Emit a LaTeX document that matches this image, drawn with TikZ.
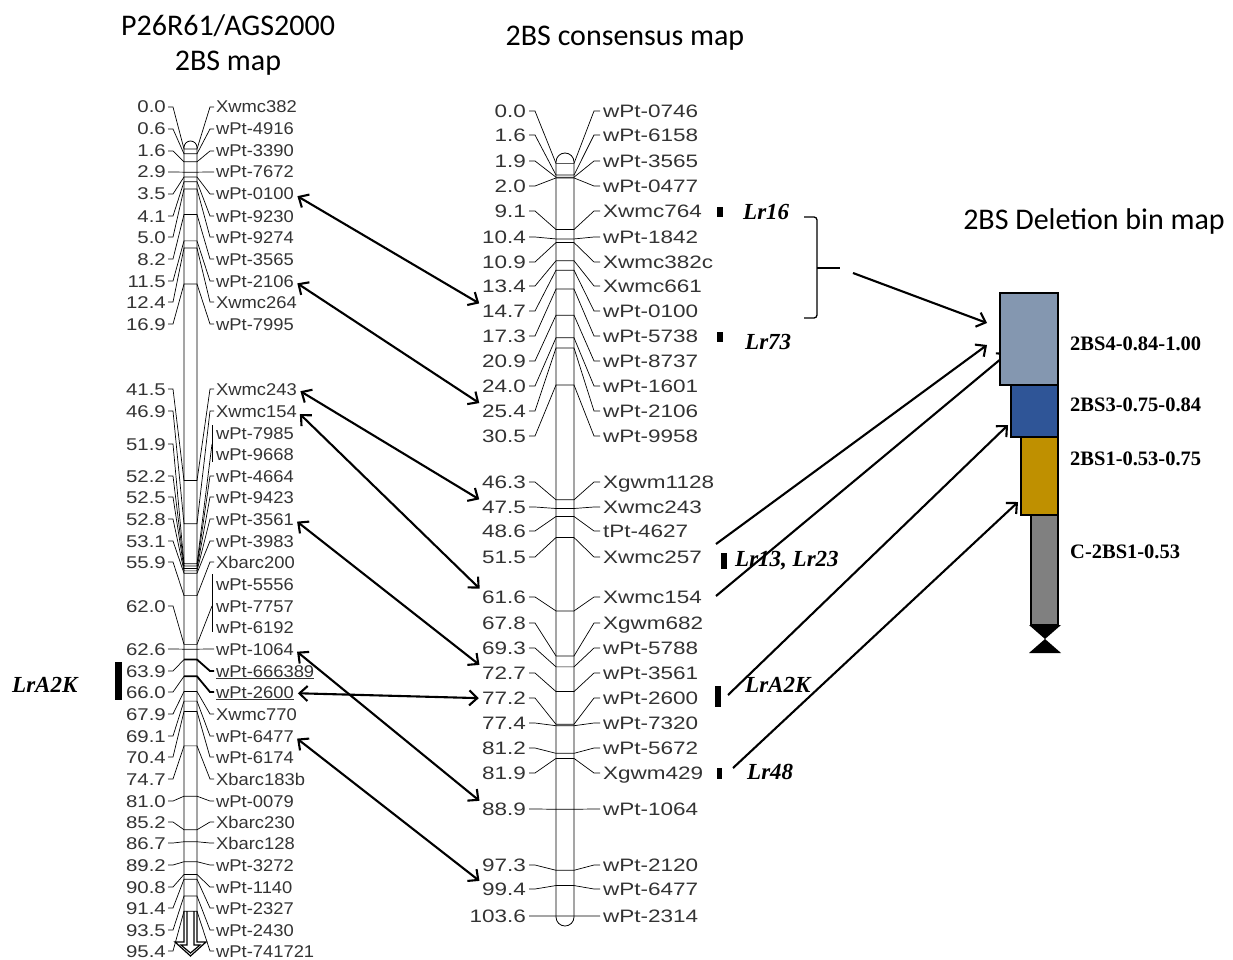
\documentclass[tikz,border=0pt]{standalone}
\usepackage{fontspec}
\setmainfont{Liberation Serif}
\newfontfamily\leftmapfont[FakeStretch=1.08]{Liberation Sans}
\newfontfamily\leftnumfont[FakeStretch=1.2]{Liberation Sans}
\newfontfamily\consmapfont[FakeStretch=1.25]{Liberation Sans}
\newfontfamily\titlefont{Carlito}
\usetikzlibrary{arrows.meta}

\definecolor{binfour}{HTML}{8497B0}
\definecolor{binthree}{HTML}{2F5597}
\definecolor{binone}{HTML}{BF9000}
\definecolor{bincen}{HTML}{808080}
\definecolor{mapgray}{HTML}{333333}

\tikzset{
  lead/.style={line width=0.7pt},
  lcm/.style={anchor=base east,inner sep=0pt,text=mapgray,font=\leftnumfont\fontsize{17}{17}\selectfont},
  lmk/.style={anchor=base west,inner sep=0pt,text=mapgray,font=\leftmapfont\fontsize{17}{17}\selectfont},
  mcm/.style={anchor=base east,inner sep=0pt,text=mapgray,font=\consmapfont\fontsize{18}{18}\selectfont},
  mmk/.style={anchor=base west,inner sep=0pt,text=mapgray,font=\consmapfont\fontsize{18}{18}\selectfont},
  maptitle/.style={inner sep=0pt,font=\titlefont\fontsize{30}{30}\selectfont},
  lrgene/.style={anchor=base west,inner sep=0pt,font=\bfseries\itshape\fontsize{23}{23}\selectfont},
  binlab/.style={anchor=base west,inner sep=0pt,font=\bfseries\fontsize{20.5}{20.5}\selectfont},
  binbox/.style={draw,line width=1.6pt},
  link/.style={line width=2.1pt,shorten <=4pt,shorten >=3pt,
    {Straight Barb[length=8pt,width=15pt]}-{Straight Barb[length=8pt,width=15pt]}},
  tobin/.style={line width=2.1pt,-{Straight Barb[length=8pt,width=15pt]}},
}

\begin{document}
\begin{tikzpicture}[x=1pt,y=-1pt]
\useasboundingbox (0,0) rectangle (1233,960);

% titles
\node[maptitle] (ttlA) at (228,26) {P26R61/AGS2000};
\node[maptitle] (ttlB) at (228,63) {2BS map};
\node[maptitle] (ttlC) at (625,38) {2BS consensus map};
\node[maptitle] (ttlD) at (1094,222) {2BS Deletion bin map};

% P26R61/AGS2000 chromosome
\draw[line width=0.8pt,rounded corners=6.5pt] (184,911) -- (184,141) -- (197,141) -- (197,911);
\draw[line width=1.2pt] (184,911) -- (184,942) -- (175,942) -- (190.5,956) -- (206,942) -- (197,942) -- (197,911);
\draw[line width=1.2pt] (187,911) -- (187,945) -- (181,945) -- (190.5,953) -- (200,945) -- (194,945) -- (194,911);

\foreach \i/\cm/\yl/\nm in {1/0.0/107/Xwmc382, 2/0.6/129/wPt-4916, 3/1.6/151/wPt-3390,
    4/2.9/172/wPt-7672, 5/3.5/194/wPt-0100, 6/4.1/216/wPt-9230, 7/5.0/237/wPt-9274,
    8/8.2/259/wPt-3565, 9/11.5/281/wPt-2106, 10/12.4/302/Xwmc264, 11/16.9/324/wPt-7995,
    12/41.5/389/Xwmc243, 13/46.9/411/Xwmc154, 15/52.2/476/wPt-4664, 16/52.5/497/wPt-9423,
    17/52.8/519/wPt-3561, 18/53.1/541/wPt-3983, 19/55.9/562/Xbarc200, 21/62.6/649/wPt-1064,
    24/67.9/714/Xwmc770, 25/69.1/736/wPt-6477, 26/70.4/757/wPt-6174, 27/74.7/779/Xbarc183b,
    28/81.0/801/wPt-0079, 29/85.2/822/Xbarc230, 30/86.7/843/Xbarc128, 31/89.2/865/wPt-3272,
    32/90.8/887/wPt-1140, 33/91.4/908/wPt-2327, 34/93.5/930/wPt-2430, 35/95.4/951/wPt-741721}{
  \pgfmathsetmacro{\yb}{149+7.99*\cm}
  \node[lcm] (lc\i) at (166,\yl+6) {\cm};
  \node[lmk] (ln\i) at (216,\yl+6) {\nm};
  \draw[lead] (168,\yl) -- (173,\yl) -- (184,\yb) -- (197,\yb) -- (210,\yl) -- (214,\yl);
}

% grouped loci
\pgfmathsetmacro{\yb}{149+7.99*51.9}
\node[lcm] (lc14) at (166,450) {51.9};
\node[lmk] (ln14a) at (216,439) {wPt-7985};
\node[lmk] (ln14b) at (216,460) {wPt-9668};
\draw[lead] (168,444) -- (173,444) -- (184,\yb) -- (197,\yb) -- (212,444);
\draw[lead] (212,425) -- (212,462);

\pgfmathsetmacro{\yb}{149+7.99*62.0}
\node[lcm] (lc20) at (166,612) {62.0};
\node[lmk] (ln20a) at (216,590) {wPt-5556};
\node[lmk] (ln20b) at (216,612) {wPt-7757};
\node[lmk] (ln20c) at (216,633) {wPt-6192};
\draw[lead] (168,606) -- (173,606) -- (184,\yb) -- (197,\yb) -- (212,606);
\draw[lead] (212,574) -- (212,632);

\foreach \i/\cm/\yl/\nm in {22/63.9/671/wPt-666389, 23/66.0/692/wPt-2600}{
  \pgfmathsetmacro{\yb}{149+7.99*\cm}
  \node[lcm] (lc\i) at (166,\yl+6) {\cm};
  \node[lmk] (ln\i) at (216,\yl+6) {\underline{\nm}};
  \draw[lead] (168,\yl) -- (173,\yl) -- (184,\yb);
  \draw[line width=1.8pt] (184,\yb) -- (197,\yb) -- (210,\yl) -- (214,\yl);
}

\fill (115,662) rectangle (122,700);
\node[lrgene] (lrA2Kl) at (12,692) {LrA2K};

% consensus chromosome
\draw[line width=0.8pt,rounded corners=9pt] (556,153) rectangle (574,926);
\foreach \i/\cm/\yl/\nm in {1/0.0/111/wPt-0746, 2/1.6/135/wPt-6158, 3/1.9/161/wPt-3565,
    4/2.0/186/wPt-0477, 5/9.1/211/Xwmc764, 6/10.4/237/wPt-1842, 7/10.9/262/Xwmc382c,
    8/13.4/286/Xwmc661, 9/14.7/311/wPt-0100, 10/17.3/336/wPt-5738, 11/20.9/361/wPt-8737,
    12/24.0/386/wPt-1601, 13/25.4/411/wPt-2106, 14/30.5/436/wPt-9958, 15/46.3/482/Xgwm1128,
    16/47.5/507/Xwmc243, 17/48.6/531/tPt-4627, 18/51.5/557/Xwmc257, 19/61.6/597/Xwmc154,
    20/67.8/623/Xgwm682, 21/69.3/648/wPt-5788, 22/72.7/673/wPt-3561, 23/77.2/698/wPt-2600,
    24/77.4/723/wPt-7320, 25/81.2/748/wPt-5672, 26/81.9/773/Xgwm429, 27/88.9/809/wPt-1064,
    28/97.3/865/wPt-2120, 29/99.4/889/wPt-6477, 30/103.6/916/wPt-2314}{
  \pgfmathsetmacro{\yb}{163.4+7.265*\cm}
  \node[mcm] (mc\i) at (526,\yl+6.5) {\cm};
  \node[mmk] (mn\i) at (603,\yl+6.5) {\nm};
  \draw[lead] (529,\yl) -- (535,\yl) -- (556,\yb) -- (574,\yb) -- (594,\yl) -- (600,\yl);
}

% links between the two maps
\draw[link] (ln5.east) -- (mc9.north west);
\draw[link] (ln9.east) -- (mc13.north west);
\draw[link] (ln12.east) -- (mc16.north west);
\draw[link] (ln13.east) -- (mc19.north west);
\draw[link] (ln17.east) -- (mc22.north west);
\draw[link] (ln21.east) -- (mc27.north west);
\draw[link] (ln23.east) -- (mc23.west);
\draw[link] (ln25.east) -- (mc29.north west);

% Lr genes
\fill (717,207) rectangle (723,217);
\node[lrgene] (lr16) at (743,219.5) {Lr16};
\fill (717,332) rectangle (723,342);
\node[lrgene] (lr73) at (745,349.5) {Lr73};
\fill (721,553) rectangle (727,569);
\node[lrgene] (lr13) at (735,566.5) {Lr13, Lr23};
\fill (715,686) rectangle (721,707);
\node[lrgene] (lrA2K) at (745,692.5) {LrA2K};
\fill (717,768) rectangle (722,779);
\node[lrgene] (lr48) at (747,779.5) {Lr48};

\draw[line width=1.3pt,rounded corners=3pt] (804,217) -| (817,268) |- (804,318);
\draw[line width=1.3pt] (817,268) -- (840,268);

% arrows to the bins
\coordinate (braceTip) at (853,273);
\coordinate (s257) at (716,544);
\coordinate (s154) at (716,596);
\coordinate (sA2K) at (728,695);
\coordinate (s48) at (733,768);
\coordinate (b4a) at (987,323);
\coordinate (b4b) at (987,345);
\coordinate (b4c) at (1008,353);
\coordinate (b3) at (1008,425);
\coordinate (b1) at (1018,502);
\draw[tobin] (braceTip) -- (b4a);
\draw[tobin] (s257) -- (b4b);
\draw[tobin] (s154) -- (b4c);
\draw[tobin] (sA2K) -- (b3);
\draw[tobin] (s48) -- (b1);

% deletion bins
\draw[binbox,fill=binfour] (1000,293) rectangle (1058,385);
\draw[binbox,fill=binthree] (1011,385) rectangle (1058,437);
\draw[binbox,fill=binone] (1021,437) rectangle (1058,515);
\draw[binbox,fill=bincen] (1031,515) rectangle (1058,625);
\fill (1029,625) -- (1061,625) -- (1045,639) -- cycle;
\fill (1029,653) -- (1061,653) -- (1045,639) -- cycle;
\node[binlab] (bs4) at (1070,350) {2BS4-0.84-1.00};
\node[binlab] (bs3) at (1070,411) {2BS3-0.75-0.84};
\node[binlab] (bs1) at (1070,465) {2BS1-0.53-0.75};
\node[binlab] (bsc) at (1070,558) {C-2BS1-0.53};
\end{tikzpicture}
\end{document}
